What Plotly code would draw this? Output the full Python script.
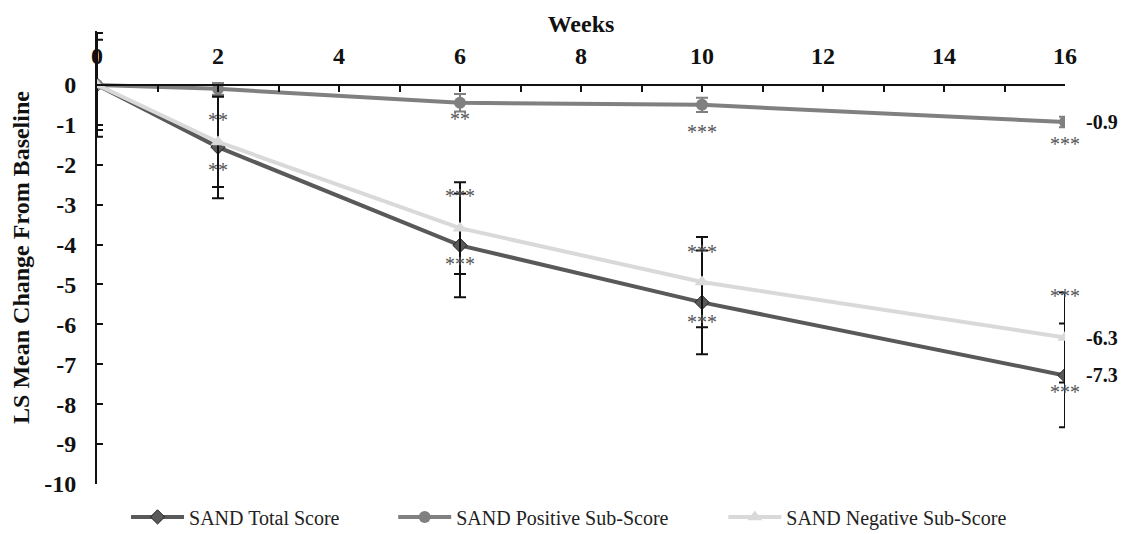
import plotly.graph_objects as go

weeks = [0, 2, 6, 10, 16]
total = [0, -1.56, -4.02, -5.45, -7.28]
total_err = [1.3, 1.28, 1.3, 1.3, 1.3]
positive = [0, -0.1, -0.45, -0.5, -0.93]
positive_err = [0.0, 0.15, 0.22, 0.18, 0.13]
negative = [0, -1.43, -3.59, -4.94, -6.33]
negative_err = [1.13, 1.13, 1.15, 1.13, 1.13]

# significance labels (one per week)
sig_total = ["", "**", "***", "***", "***"]
sig_negative = ["", "**", "***", "***", "***"]
sig_positive = ["", "", "**", "***", "***"]
end_labels = ["-7.3", "-0.9", "-6.3"]

x_tick_vals = [0, 2, 4, 6, 8, 10, 12, 14, 16]
y_tick_vals = list(range(0, -11, -1))

SERIF = "Liberation Serif, Times New Roman, serif"
C_TOTAL = "#595959"
C_POS = "#808080"
C_NEG = "#d9d9d9"

fig = go.Figure()
fig.add_trace(go.Scatter(
    x=weeks, y=total, mode="lines+markers", name="SAND Total Score", legend="legend",
    line=dict(color=C_TOTAL, width=4),
    marker=dict(symbol="diamond", size=11, color=C_TOTAL, line=dict(color="#222", width=1)),
    error_y=dict(type="data", array=total_err, color="#111", thickness=2, width=6),
))
fig.add_trace(go.Scatter(
    x=weeks, y=positive, mode="lines+markers", name="SAND Positive Sub-Score", legend="legend2",
    line=dict(color=C_POS, width=4),
    marker=dict(symbol="circle", size=12, color=C_POS),
    error_y=dict(type="data", array=positive_err, color=C_POS, thickness=2, width=6),
))
fig.add_trace(go.Scatter(
    x=weeks, y=negative, mode="lines+markers", name="SAND Negative Sub-Score", legend="legend3",
    line=dict(color=C_NEG, width=4),
    marker=dict(symbol="triangle-up", size=13, color=C_NEG),
    error_y=dict(type="data", array=negative_err, color="#111", thickness=2, width=6),
))

# significance annotations (offsets relative to the data point)
OFF_NEG_ABOVE = [0, 0.65, 0.9, 0.85, 1.14]
OFF_TOT_BELOW = [0, -0.47, -0.37, -0.4, -0.32]
OFF_POS_BELOW = [0, 0, -0.3, -0.58, -0.45]
for i, w in enumerate(weeks):
    for lab, base, off in ((sig_negative[i], negative[i], OFF_NEG_ABOVE[i]),
                           (sig_total[i], total[i], OFF_TOT_BELOW[i]),
                           (sig_positive[i], positive[i], OFF_POS_BELOW[i])):
        if lab:
            fig.add_annotation(x=w, y=base + off, text=lab, showarrow=False,
                               font=dict(family=SERIF, size=20, color="#555"),
                               xanchor="center", yanchor="middle", yshift=-4)

# end labels
for lab, series in zip(end_labels, (total, positive, negative)):
    fig.add_annotation(x=weeks[-1], y=series[-1], text="<b>%s</b>" % lab, showarrow=False,
                       xanchor="left", yanchor="middle", xshift=19,
                       font=dict(family=SERIF, size=20, color="#111"))

YTOP = 1.35
leg_common = dict(orientation="h", yref="container", yanchor="middle", y=0.032,
                  xanchor="left", font=dict(family=SERIF, size=20, color="#222"),
                  itemwidth=53, bgcolor="rgba(0,0,0,0)")
fig.update_layout(
    width=1124, height=534,
    paper_bgcolor="white", plot_bgcolor="white",
    margin=dict(l=97, r=59, t=31, b=50),
    font=dict(family=SERIF, color="#111"),
    showlegend=True,
    legend=dict(x=0.030, **leg_common),
    legend2=dict(x=0.306, **leg_common),
    legend3=dict(x=0.647, **leg_common),
    xaxis=dict(
        range=[0, 16], side="top", anchor="free", position=10 / (10 + YTOP),
        tickvals=x_tick_vals, ticktext=["<b>%d</b>" % v for v in x_tick_vals],
        tickfont=dict(family=SERIF, size=24, color="#111"),
        ticks="inside", ticklen=6, tickcolor="#111", tickwidth=1.5,
        minor=dict(dtick=1, ticks="inside", ticklen=6, tickcolor="#111", tickwidth=1.5),
        showline=True, linecolor="#111", linewidth=2, automargin=False,
        showgrid=False, zeroline=False, ticklabelstandoff=10,
        title=dict(text="<b>Weeks</b>", font=dict(family=SERIF, size=24, color="#111"), standoff=3),
    ),
    yaxis=dict(
        range=[-10, YTOP],
        tickvals=y_tick_vals, ticktext=["<b>%d</b>" % v for v in y_tick_vals],
        tickfont=dict(family=SERIF, size=24, color="#111"),
        ticks="inside", ticklen=6, tickcolor="#111", tickwidth=1.5,
        showline=True, linecolor="#111", linewidth=2, automargin=False,
        showgrid=False, zeroline=False, ticklabelstandoff=14,
        title=dict(text="<b>LS Mean Change From Baseline</b>",
                   font=dict(family=SERIF, size=24, color="#111"), standoff=8),
    ),
)

fig.write_html("out.html", config={"displayModeBar": False},
               post_script="document.body.style.margin='0';document.body.style.padding='0';")
